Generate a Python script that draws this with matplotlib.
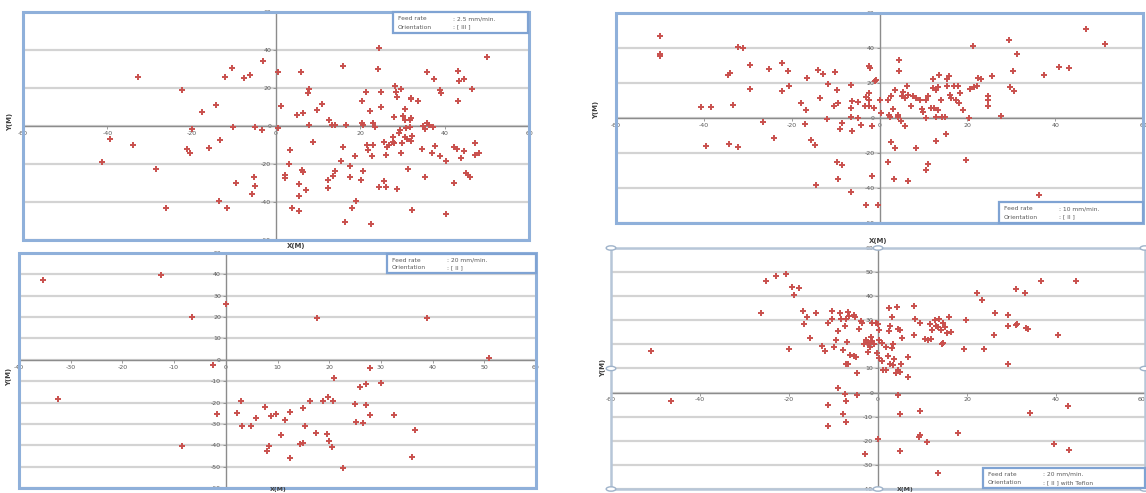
import matplotlib
matplotlib.use("Agg")
import matplotlib.pyplot as plt
from matplotlib.patches import Rectangle, Circle
import numpy as np

# ---------------- data ----------------
p1_x = [-32.8, -22.4, -17.6, -14.3, -20, -39.4, -34, -41.3, -28.5, -21, -20.4, -16, -13.2, -10.2, -12.2, -10.4,
        -7.7, -6.1, -3.1, -4.9, -3.4, 0.4, 0.4, 1.1, 4.9, 6.4, 6, 7.9, 7.7, 7.9, 8.8, 9.8, 10.9, 3.4, 3, 2.1,
        2.1, 6.2, 6.4, 5.5, 7.1, 5.4, 3.8, 5.4, -9.4, -5.1, -4.9, -5.7, -13.6, -11.7, -26, 12.5, 13.2, 13.9,
        15.9, 16.6, 15.9, 15.3, 17.6, 18.7, 13.9, 13.4, 12.3, 12.3, 17.6, 20.2, 20.7, 18.9, 18, 16.4, 22.6,
        20.3, 21.4, 20.4, 20.7, 22.4, 23, 23.4, 21.6, 21.7, 23, 22.7, 24.3, 24.5, 25, 24.8, 24.5, 26, 25.6,
        26, 25.6, 26.4, 26.8, 27.7, 27.8, 28.3, 28.5, 28.7, 29.6, 28.1, 28.7, 29.2, 29.4, 28, 29.6, 29.8,
        30.5, 30.2, 30.5, 30.8, 30.6, 31, 32, 32, 31.7, 32.1, 31.7, 32.3, 32.1, 31.3, 32.3, 33.6, 34.9, 35.3,
        35.8, 36.3, 37.2, 35.7, 37.5, 34.6, 35.3, 37, 37.7, 38.9, 39.1, 38.9, 40.4, 40.4, 42.1, 42.3, 43,
        43.1, 43.4, 44.7, 43.1, 43.8, 44.5, 46.6, 47.1, 47.1, 48.1, 45.1, 45.5, 45.9, 50]
p1_y = [25.7, 19, 7.6, 10.9, -1.8, -7, -10, -18.8, -22.5, -12.1, -14.4, -11.6, -7.4, -0.4, 26, 30.3, 25.5,
        27, 34, -0.4, -2.1, 28.2, -1.2, 10.6, 6, 6.7, 28.2, 19.4, 17.6, 0.7, -8.5, 8.5, 11.6, -12.7, -20.2,
        -25.9, -27.6, -22.9, -24.3, -30.3, -33.8, -37, -43.3, -44.7, -29.9, -27.1, -31.5, -35.9, -39.4, -43.1,
        -43.1, 3.2, 0.7, 0.7, 31.7, 0.7, -10.9, -18.3, -20.8, -15.8, -23.9, -26.4, -28.5, -32.4, -26.8, -28.5,
        -23.6, -39.4, -43, -50.7, -51.6, 13, 17.8, 1.4, 0.4, 7.9, 1.4, -0.7, -10, -12.7, -10.2, -15.8, 30.1,
        41, 18, 10.2, -32, -32, -28.9, -15.3, -8.3, -10.9, -10, -8.3, -5.6, 20.8, 18.1, 15.5, 19.7, 4.6,
        -33.1, -3.5, -2.1, -9.2, -14.4, -9.2, 9.2, 5.3, 3.2, -1.2, -6, -6.7, 14.1, 15, 3.2, 4, -0.4, -5.3,
        -8.1, -22.5, -44, 13.4, 0, -1.8, 1.4, 0.4, -0.4, 28.2, 25, -12, -27.1, -14.4, -10.6, 18.7, 17.3,
        -15.8, -18.3, -46.1, -29.9, -10.9, -12, 29.2, 23.9, 25, 12.9, -17.1, -13, 19.7, -9.2, -15.5, -14.4,
        -24.6, -25.9, -26.8, 36.1]

p2_x = [-50, -50, -50, -32.2, -31.1, -29.6, -34.4, -34, -29.6, -25.2, -22.2, -20.8, -20.7, -22.2, -40.6,
        -38.4, -33.4, -26.6, -39.5, -34.2, -32.2, -24.1, -17.9, -16.8, -17, -16.5, -14, -12.8, -10.2, -11.7,
        -9.6, -13.6, -15.7, -14.6, -12, -10.3, -9.5, -8.6, -8.9, -6.4, -6.3, -6.6, -6.6, -6.3, -4.8, -4.8,
        -4.1, -3.3, -3.1, -2.5, -2.1, -2.3, -2.3, -2.3, -1.6, -1.3, -0.8, -1.1, 0, 0.3, -9.7, -8.5, -9.5,
        -14.5, -6.4, -3, -0.3, -1.8, 2, 2.2, 2.5, 2.6, 3.1, 3.6, 4.3, 4.3, 4.4, 4.4, 4.9, 5.1, 5.3, 5.7,
        5.9, 6.2, 6.4, 7.2, 7.6, 2.6, 3.5, 2, 3.3, 6.6, 8.2, 8.4, 9.2, 9.7, 9.9, 10.7, 11, 10.7, 11.7, 12.1,
        12.2, 12.8, 13.3, 13.6, 14, 12.5, 12.9, 13.3, 14.2, 15, 15.4, 15.4, 15.8, 16, 16.2, 17, 17.4, 17.9,
        18.1, 18.4, 18.9, 15.1, 12.9, 11, 10.5, 20.3, 19.8, 20.6, 21.6, 22.3, 22.5, 23.2, 21.2, 25.7, 24.7,
        24.7, 24.7, 27.7, 29.8, 30.6, 30.5, 31.3, 29.6, 37.4, 36.4, 40.9, 43.1, 47.1, 51.4]
p2_y = [46.7, 36.8, 35.6, 40.6, 40, 30.5, 24.8, 25.7, 16.6, 28.2, 31.4, 27, 18.5, 15.2, 6.3, 6.3, 7.4,
        -2.3, -16.2, -14.7, -16.6, -11.6, 8.6, 4.8, -3.2, 22.9, 27.6, 25.3, 26.5, 19.4, 16.2, 11.2, -12.8,
        -15.4, -0.6, 6.7, 8.6, -2.9, -6.3, 18.9, 9.5, 5.7, 0.6, -7.6, 0, 9, -3.8, 7, 12, 29.5, 28.6, 14.3,
        10.5, 6.7, -4.8, 5.7, 21.9, 21.3, 10.5, 2.9, -25.3, -26.7, -34.9, -38.1, -42.5, -49.5, -49.5, -33,
        10.5, 1.9, 0.6, 12.4, 5.1, 15.8, 1.5, 0.6, 33.3, 26.7, -1.9, 12.4, 14.7, 11.4, -4.4, 18.5, 13.3, 7,
        12.4, -13.9, -17.1, -25.3, -34.9, -36.2, -17.3, 11.4, 10.5, 5.1, 3.2, 10.5, 12.4, 0, 5.7, 17.1,
        22.5, 16, 17.7, 24.8, 10.5, 5.7, 0.6, 4.8, 0.6, 0.6, 18.5, 22.3, 24.2, 13.3, 11.4, 18.5, 10.5, 18.5,
        8.6, 14.3, 4.8, -9, -13.3, -26.1, -29.9, -0.2, -23.8, 16.6, 17.7, 18.5, 22.9, 22.3, 41, 24.2, 12.4,
        10.5, 7, 1.3, 17.7, 15.2, 26.7, 36.8, 44.4, 24.8, -43.8, 29.1, 28.6, 50.9, 42.5]

p3_x = [-35.4, -12.5, 0.1, -6.5, 17.7, 38.9, 51, -2.4, -32.4, -1.7, -8.5, 27.8, 21, 30, 26, 27.1, 19.8,
        18.8, 20.8, 16.3, 3, 7.5, 14.9, 24.9, 27.1, 2.2, 12.5, 9.7, 8.8, 5.9, 11.5, 27.9, 32.5, 3.1, 4.9,
        15.4, 25.1, 26.5, 36.5, 10.6, 17.4, 19.6, 20, 14.4, 14.9, 8.3, 8, 20.5, 12.4, 36.1, 22.6]
p3_y = [37.5, 39.8, 26.1, 20, 19.5, 19.8, 0.8, -2.3, -18.4, -25.3, -40.2, -3.6, -8.3, -10.9, -12.8, -11.3,
        -17.2, -19.1, -19.1, -19.5, -19.5, -22.2, -22.7, -20.6, -21.1, -24.7, -24.5, -25.3, -26.3, -27.3,
        -28.1, -25.9, -25.6, -30.8, -30.8, -30.8, -29.1, -29.4, -32.8, -35.2, -34.1, -34.8, -37.8, -39.4,
        -39.1, -40.3, -42.8, -40.6, -45.8, -45.3, -50.6]

p4_x = [-50.9, -46.5, -25.1, -23, -20.6, -19.4, -17.8, -18.8, -26.3, -20, -16.8, -16, -16.6, -14, -15.2,
        -12.5, -12, -11.2, -10.3, -10.3, -9.9, -9.4, -9.1, -8.5, -8.3, -7.9, -7.5, -7.1, -6.7, -6.5, -7,
        -6.3, -6.7, -5.5, -4.9, -5.5, -5.1, -4.3, -3.9, -3.5, -3.1, -2.7, -2.3, -1.9, -1.5, -1.3, -0.5, 0,
        0.2, 0.2, -0.2, 0.2, 0.8, 1.1, 1.8, 2.2, 2.4, 2.4, 2.7, 3.2, 3.2, 3.4, 2.7, 3.6, 4.2, 4.6, 5, 5.4,
        5.1, 5, 4, 4.6, 6.8, 6.8, 8.1, 8.4, 9.5, 8.2, 11.3, 11.6, 12.1, 12.7, 13.1, 13.5, 13.7, 14.1, 14.3,
        14.7, 15.1, 15.4, 15.9, 16.3, 14.6, 11.9, 19.7, 19.4, 23.8, 22.2, 23.4, 26, 26.4, 29.3, 29.3, 31,
        33.7, 29.3, 30.9, 33.1, 36.7, 44.4, 40.4, 0, 4.6, -4.7, -7.1, -9.1, -7.5, -7.3, -4.7, -11.3, -7.9,
        -7.1, -11.3, -2.9, 4.9, 9.5, 9.5, 9.2, 11.1, 4.9, 13.5, 17.9, 34.1, 39.6, 43, 42.6, 1.8, 3.4, 1,
        -1.3, -2.3, -0.8, 10.5, 33.3, 31.2]
p4_y = [17.4, -3.3, 46.1, 48.4, 49.1, 44, 43.3, 40.7, 33.2, 18, 34, 31.3, 28.5, 33.2, 22.5, 19.4, 17.4,
        29, 34, 30.7, 19.1, 21.9, 25.7, 33.2, 30.4, 17.7, 27.7, 30.7, 33.6, 31.8, 21.2, 15.6, 11.9, 15.2,
        14.7, 32.2, 31.5, 26.3, 29.9, 28.8, 20.2, 21.9, 20.7, 18.8, 23.2, 29, 29, 28.5, 26, 21.9, 16.3, 14.2,
        20.5, 9.4, 19.1, 15.2, 25.7, 35, 27.7, 31.3, 18.4, 20.2, 11.9, 13.8, 35.7, 26.3, 26, 22.5, 11.9, 8.7,
        8.3, 9.4, 14.7, 6.4, 36, 30.4, 29, 23.9, 21.9, 28.5, 26, 30.2, 27.7, 27.1, 30.4, 26, 20.2, 29, 27.1,
        24.9, 31.3, 25.3, 20.5, 22.1, 30.2, 18, 18, 41.2, 38.5, 23.9, 33.2, 32.2, 27.7, 28.1, 26.3, 11.9,
        42.9, 41.5, 46.5, 46.1, 23.9, -19.4, -1, 8.3, 11.9, 2.1, -0.7, -3.3, -1, -5.1, -8.9, -12.4, -13.8,
        -25.4, -8.9, -7.5, -17.6, -18.5, -20.5, -24.3, -33.2, -16.6, -8.6, -21.3, -23.8, -5.4, 9.4, 11.5,
        13.3, 21.6, 17, 20.2, 22.1, 26.7, 28.5]

p1_xticks = [-60, -40, -20, 0, 20, 40, 60]
p1_yticks = [-60, -40, -20, 0, 20, 40, 60]
p2_xticks = [-60, -40, -20, 0, 20, 40, 60]
p2_yticks = [-60, -40, -20, 0, 20, 40, 60]
p3_xticks = [-40, -30, -20, -10, 0, 10, 20, 30, 40, 50, 60]
p3_yticks = [-60, -50, -40, -30, -20, -10, 0, 10, 20, 30, 40, 50]
p4_xticks = [-60, -40, -20, 0, 20, 40, 60]
p4_yticks = [-40, -30, -20, -10, 0, 10, 20, 30, 40, 50, 60]

legend_rates = ["2.5 mm/min.", "10 mm/min.", "20 mm/min.", "20 mm/min."]
legend_orient = ["[ III ]", "[ II ]", "[ II ]", "[ II ] with Teflon"]
y_label = "Y(M)"
x_label = "X(M)"

# ---------------- figure ----------------
W, H = 1146, 493
fig = plt.figure(figsize=(W / 100, H / 100), dpi=100)
fig.patch.set_facecolor("white")

MARK = "#C9504D"
FRAME = "#8FB0DA"
GRID = "#D3D3D3"
AXC = "#8C8C8C"
TXT = "#595959"


def px_rect(x0, y0, x1, y1):
    return [x0 / W, 1 - y1 / H, (x1 - x0) / W, (y1 - y0) / H]


def panel(rect, xs, ys, xt, yt, frame_color=FRAME, frame_lw=2.2):
    ax = fig.add_axes(px_rect(*rect))
    ax.set_xlim(xt[0], xt[-1])
    ax.set_ylim(yt[0], yt[-1])
    ax.set_xticks(xt)
    ax.set_yticks(yt)
    ax.set_xticklabels([str(v) for v in xt])
    ax.set_yticklabels([str(v) for v in yt])
    ax.spines["top"].set_visible(False)
    ax.spines["right"].set_visible(False)
    ax.spines["left"].set_position(("data", 0))
    ax.spines["bottom"].set_position(("data", 0))
    for s in ("left", "bottom"):
        ax.spines[s].set_color(AXC)
        ax.spines[s].set_linewidth(1.0)
    ax.tick_params(axis="both", length=2, width=0.6, color=AXC, labelsize=4.5,
                   labelcolor=TXT, pad=1.5)
    ax.yaxis.grid(True, color=GRID, lw=1.6)
    ax.xaxis.grid(False)
    ax.set_axisbelow(True)
    ax.plot(xs, ys, linestyle="none", marker="+", markersize=3.8, mew=1.4,
            color=MARK, zorder=3, clip_on=False)
    ax.add_patch(Rectangle((0, 0), 1, 1, transform=ax.transAxes, fill=False,
                           edgecolor=frame_color, lw=frame_lw, clip_on=False, zorder=4))
    return ax


def legend_box(x0, y0, x1, y1, rate, orient):
    fig.add_artist(Rectangle((x0 / W, 1 - y1 / H), (x1 - x0) / W, (y1 - y0) / H,
                             transform=fig.transFigure, facecolor="white",
                             edgecolor="#7FA3D3", lw=1.6, zorder=5))
    h = y1 - y0
    fig.text((x0 + 5) / W, 1 - (y0 + h * 0.32) / H, "Feed rate", fontsize=4.3,
             color=TXT, va="center", zorder=6)
    fig.text((x0 + 5) / W, 1 - (y0 + h * 0.72) / H, "Orientation", fontsize=4.3,
             color=TXT, va="center", zorder=6)
    fig.text((x0 + 60) / W, 1 - (y0 + h * 0.32) / H, ": " + rate, fontsize=4.3,
             color=TXT, va="center", zorder=6)
    fig.text((x0 + 60) / W, 1 - (y0 + h * 0.72) / H, ": " + orient, fontsize=4.3,
             color=TXT, va="center", zorder=6)


ax1 = panel((23, 12, 529, 240), p1_x, p1_y, p1_xticks, p1_yticks)
ax2 = panel((616, 13, 1143, 223), p2_x, p2_y, p2_xticks, p2_yticks)
ax3 = panel((19, 253, 536, 488), p3_x, p3_y, p3_xticks, p3_yticks)
ax4 = panel((611, 248, 1145, 489), p4_x, p4_y, p4_xticks, p4_yticks,
            frame_color="#B7C6D8", frame_lw=1.8)
# keep the right-most tick label of the lower-right chart inside the picture
ax4.get_xticklabels()[-1].set_horizontalalignment("right")

# selection handles on the lower-right chart
for (hx, hy) in [(0, 0), (0, 0.5), (0, 1), (0.5, 0), (0.5, 1), (1, 0.5), (1, 1), (1, 0)]:
    ax4.add_patch(Circle((hx, hy), 0.009, transform=ax4.transAxes,
                         facecolor="white", edgecolor="#9FB3CA", lw=1.0,
                         clip_on=False, zorder=6))

legend_box(393, 12, 528, 33, legend_rates[0], legend_orient[0])
legend_box(999, 202, 1143, 223, legend_rates[1], legend_orient[1])
legend_box(387, 254, 536, 273, legend_rates[2], legend_orient[2])
legend_box(983, 468, 1145, 488, legend_rates[3], legend_orient[3])

# axis titles
for (lx, ly) in [(10, 122), (596, 110), (9, 377), (603, 368)]:
    fig.text(lx / W, 1 - ly / H, y_label, rotation=90, fontsize=5, color="#404040",
             ha="center", va="center", fontweight="bold")
for (lx, ly) in [(296, 246), (878, 241)]:
    fig.text(lx / W, 1 - ly / H, x_label, fontsize=5, color="#404040",
             ha="center", va="center", fontweight="bold")
for (lx, ly) in [(278, 492), (905, 492)]:
    fig.text(lx / W, 1 - ly / H, x_label, fontsize=4.5, color="#404040",
             ha="center", va="bottom", fontweight="bold", zorder=7)

fig.savefig("out.png", dpi=100, facecolor="white")
